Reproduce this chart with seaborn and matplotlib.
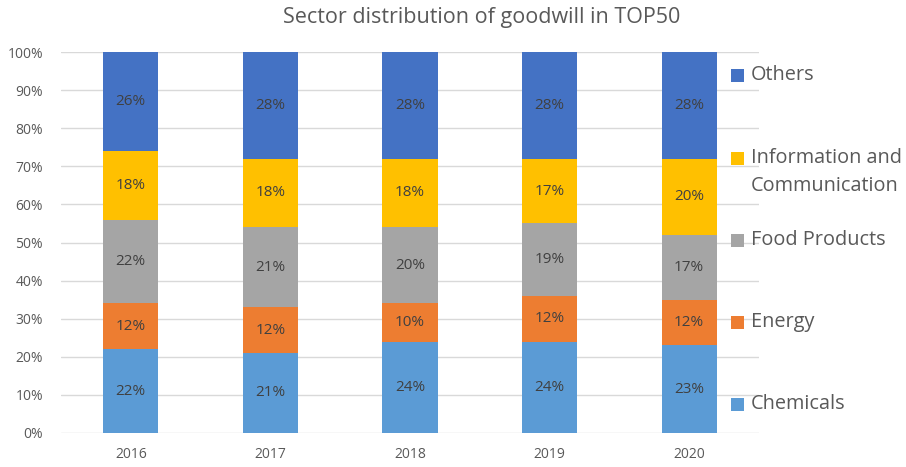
import matplotlib
matplotlib.use("Agg")
import matplotlib.pyplot as plt
import seaborn as sns
import numpy as np
import pandas as pd
from matplotlib.patches import Rectangle

years = ["2016", "2017", "2018", "2019", "2020"]
series = ["Chemicals", "Energy", "Food Products", "Information and\nCommunication", "Others"]
chemicals = [22, 21, 24, 24, 23]
energy = [12, 12, 10, 12, 12]
food = [22, 21, 20, 19, 17]
info = [18, 18, 18, 17, 20]
others = [26, 28, 28, 28, 28]
colors = ["#5B9BD5", "#ED7D31", "#A5A5A5", "#FFC000", "#4472C4"]
yticks = [0, 10, 20, 30, 40, 50, 60, 70, 80, 90, 100]

sns.set_theme(style="white")
plt.rcParams["font.family"] = ["Open Sans", "DejaVu Sans"]

fig = plt.figure(figsize=(9.06, 4.67), dpi=100)
ax = fig.add_axes([61/906, 34/467, 698/906, 381/467])

vals = np.array([chemicals, energy, food, info, others], dtype=float)
cum = vals.cumsum(axis=0)

# draw from top layer down so each lower layer overlays
for i in range(len(series) - 1, -1, -1):
    df = pd.DataFrame({"year": years, "v": cum[i]})
    sns.barplot(data=df, x="year", y="v", color=colors[i], width=0.395,
                saturation=1, ax=ax, zorder=2, errorbar=None,
                linewidth=0, edgecolor="none")

for i in range(len(series)):
    bottoms = cum[i] - vals[i]
    for j in range(len(years)):
        ax.text(j, bottoms[j] + vals[i][j] / 2, f"{int(vals[i][j])}%",
                ha="center", va="center", fontsize=11, color="#404040", zorder=3)

ax.set_ylim(0, 100)
ax.set_xlim(-0.5, 4.5)
ax.set_yticks(yticks)
ax.set_yticklabels([f"{t}%" for t in yticks])
ax.set_xlabel("")
ax.set_ylabel("")
for s in ax.spines.values():
    s.set_visible(False)
ax.yaxis.grid(True, color="#D9D9D9", linewidth=1)
ax.set_axisbelow(True)
ax.tick_params(axis="y", length=0, pad=13, labelsize=10, labelcolor="#595959")
ax.tick_params(axis="x", length=0, pad=10, labelsize=10, labelcolor="#595959")

fig.text(482/906, 1 - 18/467, "Sector distribution of goodwill in TOP50",
         ha="center", va="center", fontsize=15.5, color="#595959")

# legend (manual)
leg_y = [404, 322, 240, 158, 75]
for i in range(len(series)):
    yc = 1 - leg_y[i] / 467
    fig.patches.append(Rectangle((731/906, yc - 6.5/467), 13/906, 13/467,
                                 transform=fig.transFigure, facecolor=colors[i],
                                 edgecolor="none", zorder=5))
    fig.text(751/906, yc, series[i].split("\n")[0], ha="left", va="center",
             fontsize=14.3, color="#595959", zorder=5)
    if "\n" in series[i]:
        fig.text(751/906, 1 - 186/467, series[i].split("\n")[1], ha="left",
                 va="center", fontsize=14.3, color="#595959", zorder=5)

fig.savefig("out.png", dpi=100, facecolor="white")
